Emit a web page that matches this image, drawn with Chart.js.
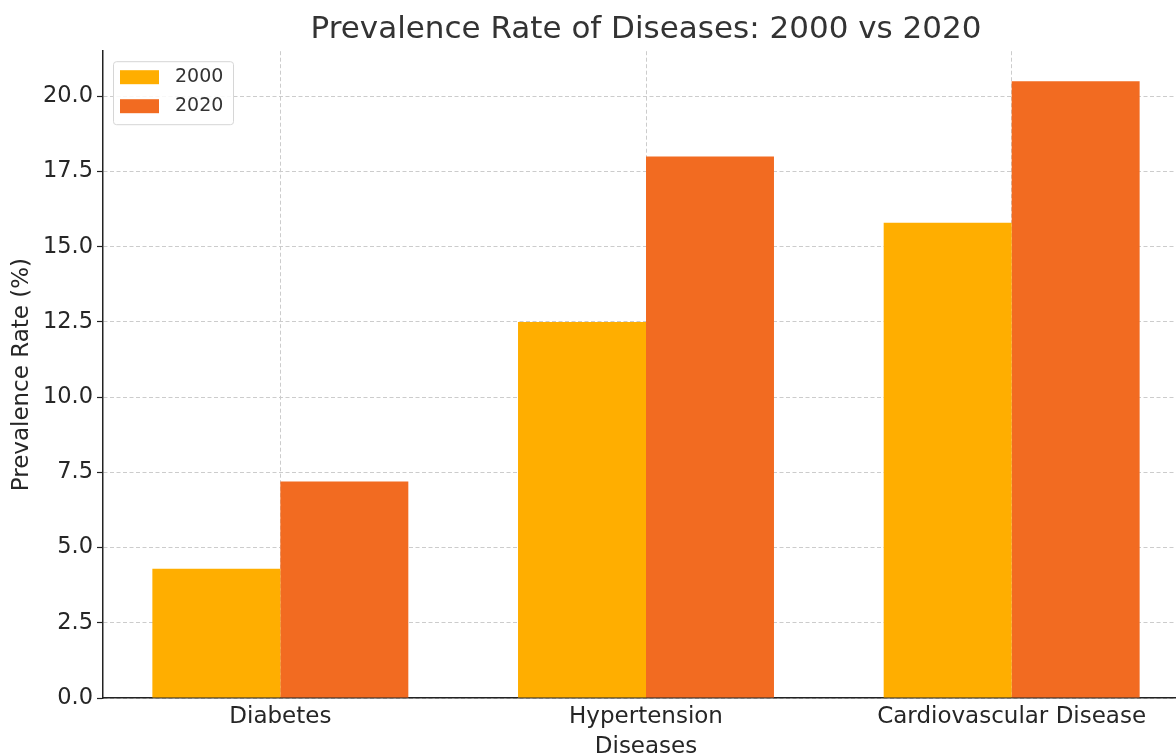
<!DOCTYPE html>
<html>
<head>
<meta charset="utf-8">
<script src="https://cdn.jsdelivr.net/npm/chart.js@4.4.1/dist/chart.umd.min.js"></script>
<style>
  html, body { margin: 0; padding: 0; background: #fff; overflow: hidden; }
  #wrap { position: relative; width: 1200px; height: 755px; }
</style>
</head>
<body>
<div id="wrap"><canvas id="chart"></canvas></div>
<script>
// Disease prevalence (%) in 2000 and 2020
const categories = ['Diabetes', 'Hypertension', 'Cardiovascular Disease'];
const rate2000 = [4.3, 12.5, 15.8];
const rate2020 = [7.2, 18.0, 20.5];
const seriesLabels = ['2000', '2020'];
const seriesColors = ['#FFAE00', '#F26B21'];

const FONT = "'DejaVu Sans', sans-serif";
const TEXT = '#262626';

const toPoints = vals => vals.map((v, i) => ({ x: i, y: v }));

// Center the title over the plot area rather than the whole canvas
const centerTitle = {
  id: 'centerTitle',
  afterLayout(chart) {
    const tb = chart.titleBlock;
    if (tb) {
      tb.left = chart.chartArea.left;
      tb.right = chart.chartArea.right;
      tb.width = tb.right - tb.left;
    }
  }
};

// Boxed legend in the upper-left corner of the plot area
const boxLegend = {
  id: 'boxLegend',
  afterDraw(chart) {
    const ctx = chart.ctx;
    const a = chart.chartArea;
    const x0 = a.left + 10, y0 = a.top + 10, w = 120, h = 63;
    ctx.save();
    ctx.fillStyle = 'rgba(255,255,255,0.85)';
    ctx.strokeStyle = '#d6d6d6';
    ctx.lineWidth = 1;
    ctx.beginPath();
    ctx.roundRect(x0 + 0.5, y0 + 0.5, w, h, 3);
    ctx.fill();
    ctx.stroke();
    ctx.font = '19px ' + FONT;
    ctx.textBaseline = 'middle';
    chart.data.datasets.forEach((ds, i) => {
      const cy = y0 + 16 + i * 29;
      ctx.fillStyle = ds.backgroundColor;
      ctx.fillRect(x0 + 7, cy - 7, 39, 14);
      ctx.fillStyle = '#333';
      ctx.fillText(ds.label, x0 + 62, cy);
    });
    ctx.restore();
  }
};

const gridColor = '#cccccc';
const dash = [4, 2.5];

new Chart(document.getElementById('chart'), {
  type: 'bar',
  data: {
    datasets: [
      { label: seriesLabels[0], data: toPoints(rate2000), backgroundColor: seriesColors[0] },
      { label: seriesLabels[1], data: toPoints(rate2020), backgroundColor: seriesColors[1] }
    ]
  },
  options: {
    responsive: true,
    maintainAspectRatio: false,
    animation: false,
    categoryPercentage: 0.7,
    barPercentage: 1.0,
    layout: { padding: { left: 0, right: 11, top: 0, bottom: 0 } },
    plugins: {
      legend: { display: false },
      tooltip: { enabled: false },
      title: {
        display: true,
        text: 'Prevalence Rate of Diseases: 2000 vs 2020',
        color: '#333',
        font: { family: FONT, size: 31, weight: 'normal', lineHeight: 1.2 },
        padding: { top: 11, bottom: 3 }
      }
    },
    scales: {
      x: {
        type: 'linear',
        min: -0.485,
        max: 2.485,
        offset: false,
        z: 1,
        afterBuildTicks(scale) {
          scale.ticks = categories.map((_, i) => ({ value: i }));
        },
        afterFit(scale) { scale.height = 57; },
        ticks: {
          color: TEXT,
          font: { family: FONT, size: 23 },
          padding: 5,
          maxRotation: 0,
          autoSkip: false,
          callback: v => categories[v]
        },
        grid: {
          offset: false,
          color: gridColor,
          lineWidth: 1,
          drawTicks: false
        },
        border: { display: true, color: '#222', width: 1.5, dash: dash },
        title: {
          display: true,
          text: 'Diseases',
          color: TEXT,
          font: { family: FONT, size: 23, lineHeight: 0.7 },
          padding: { top: 0, bottom: 0 }
        }
      },
      y: {
        min: 0,
        max: 21.5,
        z: 1,
        afterFit(scale) { scale.width = 103; },
        ticks: {
          stepSize: 2.5,
          includeBounds: false,
          color: TEXT,
          font: { family: FONT, size: 22.5 },
          padding: 4,
          callback: v => Number(v).toFixed(1)
        },
        grid: {
          color: gridColor,
          lineWidth: 1,
          tickColor: '#222',
          tickLength: 6,
          tickWidth: 1.2,
          tickBorderDash: []
        },
        border: { display: true, color: '#222', width: 1.5, dash: dash },
        title: {
          display: true,
          text: 'Prevalence Rate (%)',
          color: TEXT,
          font: { family: FONT, size: 23, lineHeight: 1.0 },
          padding: { top: 11, bottom: 0 }
        }
      }
    }
  },
  plugins: [centerTitle, boxLegend]
});
</script>
</body>
</html>
